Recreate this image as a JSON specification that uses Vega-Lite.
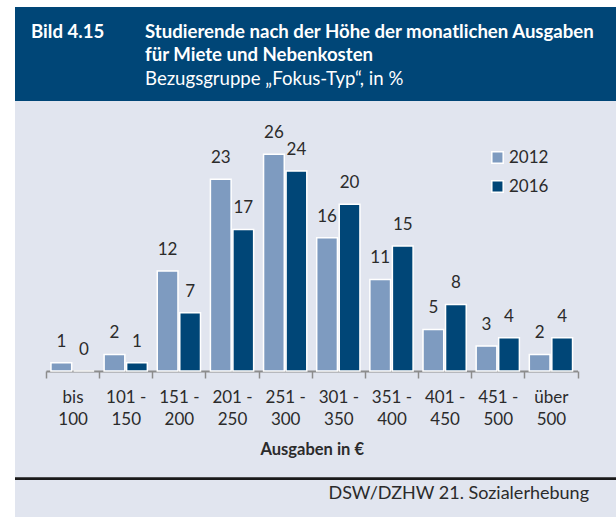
{
  "$schema": "https://vega.github.io/schema/vega-lite/v6.json",
  "background": "#ffffff",
  "padding": {"left": 13, "top": 7, "right": 0, "bottom": 0},
  "spacing": 0,
  "config": {
    "font": "Lato",
    "view": {"stroke": null},
    "text": {"font": "Lato"},
    "legend": {"labelFont": "Lato"}
  },
  "datasets": {
    "header": [
      {"col": "left", "line": 1, "text": "Bild 4.15", "bold": "yes"},
      {"col": "right", "line": 1, "text": "Studierende nach der Höhe der monatlichen Ausgaben", "bold": "yes"},
      {"col": "right", "line": 2, "text": "für Miete und Nebenkosten", "bold": "yes"},
      {"col": "right", "line": 3, "text": "Bezugsgruppe „Fokus-Typ“, in %", "bold": "no"}
    ],
    "bars": [
      {"range": "bis 100", "year": "2012", "value": 1},
      {"range": "bis 100", "year": "2016", "value": 0},
      {"range": "101 - 150", "year": "2012", "value": 2},
      {"range": "101 - 150", "year": "2016", "value": 1},
      {"range": "151 - 200", "year": "2012", "value": 12},
      {"range": "151 - 200", "year": "2016", "value": 7},
      {"range": "201 - 250", "year": "2012", "value": 23},
      {"range": "201 - 250", "year": "2016", "value": 17},
      {"range": "251 - 300", "year": "2012", "value": 26},
      {"range": "251 - 300", "year": "2016", "value": 24},
      {"range": "301 - 350", "year": "2012", "value": 16},
      {"range": "301 - 350", "year": "2016", "value": 20},
      {"range": "351 - 400", "year": "2012", "value": 11},
      {"range": "351 - 400", "year": "2016", "value": 15},
      {"range": "401 - 450", "year": "2012", "value": 5},
      {"range": "401 - 450", "year": "2016", "value": 8},
      {"range": "451 - 500", "year": "2012", "value": 3},
      {"range": "451 - 500", "year": "2016", "value": 4},
      {"range": "über 500", "year": "2012", "value": 2},
      {"range": "über 500", "year": "2016", "value": 4}
    ],
    "footer": [{"line": -12.9}]
  },
  "vconcat": [
    {
      "width": 603,
      "height": 94,
      "view": {"fill": "#004677", "stroke": null},
      "data": {"name": "header"},
      "encoding": {
        "x": {"field": "col", "type": "nominal", "scale": {"type": "point", "domain": ["left", "right"], "range": [16, 130], "padding": 0}, "axis": null},
        "y": {"field": "line", "type": "quantitative", "scale": {"domain": [1, 3], "range": [30.5, 78], "nice": false, "zero": false}, "axis": null},
        "text": {"field": "text"}
      },
      "layer": [
        {
          "transform": [{"filter": "datum.bold == 'yes'"}],
          "mark": {"type": "text", "align": "left", "baseline": "alphabetic", "fontSize": 18.6, "fontWeight": "bold", "color": "#ffffff"}
        },
        {
          "transform": [{"filter": "datum.bold == 'no'"}],
          "mark": {"type": "text", "align": "left", "baseline": "alphabetic", "fontSize": 18.6, "fontWeight": "normal", "color": "#ffffff"}
        }
      ]
    },
    {
      "width": 603,
      "height": 416,
      "view": {"fill": "#e1e5ef", "stroke": null},
      "title": {"text": "DSW/DZHW 21. Sozialerhebung", "orient": "bottom", "anchor": "end", "frame": "group", "offset": -32, "dx": -29, "fontSize": 18, "fontWeight": "normal", "font": "Lato", "color": "#2b2b2b"},
      "layer": [
        {
          "data": {"name": "bars"},
          "mark": {"type": "bar", "stroke": "#ffffff", "strokeWidth": 1.5},
          "encoding": {
            "x": {
              "field": "range", "type": "nominal", "sort": null,
              "scale": {"range": [31, 562.5], "paddingInner": 0, "paddingOuter": 0},
              "axis": {
                "orient": "bottom", "offset": -146, "title": "Ausgaben in €",
                "titleFont": "Lato", "titleFontSize": 16.5, "titleFontWeight": "bold", "titleColor": "#2b2b2b", "titlePadding": 14,
                "labelFont": "Lato", "labelFontSize": 17, "labelColor": "#2b2b2b", "labelAngle": 0, "labelPadding": 11, "labelLineHeight": 22,
                "labelExpr": "indexof(datum.label, ' - ') > 0 ? [substring(datum.label, 0, indexof(datum.label, ' - ') + 2), substring(datum.label, indexof(datum.label, ' - ') + 3)] : split(datum.label, ' ')",
                "tickBand": "extent", "tickSize": 7, "tickColor": "#8c8c8c", "tickWidth": 1.5,
                "domainColor": "#8c8c8c", "domainWidth": 2
              }
            },
            "xOffset": {"field": "year", "type": "nominal", "scale": {"paddingInner": 0.08, "paddingOuter": 0.22}},
            "y": {"field": "value", "type": "quantitative", "scale": {"domain": [-17.5, 32.4], "nice": false}, "axis": null},
            "color": {
              "field": "year", "type": "nominal",
              "scale": {"domain": ["2012", "2016"], "range": ["#7e9bc0", "#004677"]},
              "legend": {
                "title": null, "orient": "none", "legendX": 474, "legendY": 142,
                "symbolType": "square", "symbolSize": 130, "symbolStrokeColor": "#ffffff", "symbolStrokeWidth": 1.5, "symbolOpacity": 1,
                "labelFont": "Lato", "labelFontSize": 17, "labelColor": "#2b2b2b", "labelOffset": 3, "rowPadding": 10
              }
            }
          }
        },
        {
          "data": {"name": "bars"},
          "mark": {"type": "text", "baseline": "alphabetic", "dy": -16, "fontSize": 17, "color": "#2b2b2b", "font": "Lato"},
          "encoding": {
            "x": {"field": "range", "type": "nominal", "sort": null},
            "xOffset": {"field": "year", "type": "nominal"},
            "y": {"field": "value", "type": "quantitative"},
            "text": {"field": "value", "type": "quantitative", "format": ".0f"}
          }
        },
        {
          "data": {"name": "footer"},
          "mark": {"type": "rule", "color": "#1a1a1a", "strokeWidth": 2.7},
          "encoding": {
            "y": {"field": "line", "type": "quantitative"}
          }
        }
      ]
    }
  ]
}
